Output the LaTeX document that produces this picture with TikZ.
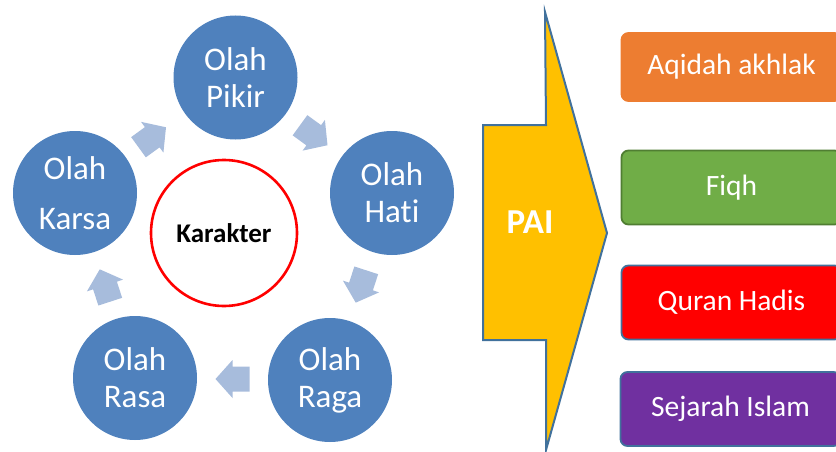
\documentclass[tikz,border=0pt]{standalone}
\usepackage{fontspec}
\setmainfont{Carlito}[Ligatures=CommonOff]
\usetikzlibrary{calc}
\definecolor{circblue}{RGB}{79,129,189}
\definecolor{arrfill}{RGB}{167,188,220}
\definecolor{paiyellow}{RGB}{255,192,0}
\definecolor{edgeblue}{RGB}{65,113,156}
\definecolor{orangebox}{RGB}{237,125,49}
\definecolor{greenbox}{RGB}{112,173,71}
\definecolor{greenedge}{RGB}{80,126,50}
\definecolor{redbox}{RGB}{255,0,0}
\definecolor{purplebox}{RGB}{112,48,160}
\tikzset{
  olah/.style={circle, fill=circblue, text=white, minimum size=124pt, inner sep=0pt, align=center, font=\fontsize{33}{37}\selectfont},
  blockarr/.pic={\fill[arrfill] (-17,-12.5) -- (0,-12.5) -- (0,-19) -- (17,0) -- (0,19) -- (0,12.5) -- (-17,12.5) -- cycle;},
  subj/.style={rounded corners=7pt, minimum width=220pt, text=white, line width=1.8pt, font=\fontsize{29.5}{33}\selectfont, inner sep=0pt}
}
\begin{document}
\begin{tikzpicture}[x=1pt,y=-1pt]
\useasboundingbox (0,0) rectangle (836,452);
\clip (0,0) rectangle (836,452);
% circles
\node[olah] (pikir) at (235.5,77.5) {Olah\\Pikir};
\node[olah] (hati) at (392,193) {Olah\\Hati};
\node[olah] (raga) at (330,380) {Olah\\Raga};
\node[olah] (rasa) at (135,378) {Olah\\Rasa};
\node[olah] (karsa) at (75,193) {Olah\\[13pt]Karsa};
\node[circle, draw=red, line width=2.6pt, fill=white, minimum size=146pt, inner sep=0pt, font=\fontsize{27}{30}\selectfont\bfseries] (kar) at (224,233) {Karakter};
% block arrows between circles
\pic[rotate=-36] at ($(pikir)!0.5!(hati)$) {blockarr};
\pic[rotate=-108] at ($(hati)!0.5!(raga)$) {blockarr};
\pic[rotate=180] at ($(raga)!0.5!(rasa)$) {blockarr};
\pic[rotate=108] at ($(rasa)!0.5!(karsa)$) {blockarr};
\pic[rotate=36] at ($(karsa)!0.5!(pikir)+(-3,2)$) {blockarr};
% PAI arrow
\draw[fill=paiyellow, draw=edgeblue, line width=2pt, line join=miter]
  (545,12) -- (546,125) -- (483,125) -- (483,340) -- (546,340) -- (546,450) -- (607,233) -- cycle;
\node[text=white, font=\fontsize{35}{40}\selectfont\bfseries] (pai) at (530,222) {PAI};
% subject boxes
\node[subj, fill=orangebox, draw=orangebox, minimum height=68pt] (aqidah) at (731.5,67) {Aqidah akhlak};
\node[subj, fill=greenbox, draw=greenedge, minimum height=74pt] (fiqh) at (731.5,187.5) {Fiqh};
\node[subj, fill=redbox, draw=edgeblue, minimum height=74pt] (quran) at (731.5,302.5) {Quran Hadis};
\node[subj, fill=purplebox, draw=edgeblue, minimum height=74pt] (sejarah) at (730.5,409) {Sejarah Islam};
\end{tikzpicture}
\end{document}
